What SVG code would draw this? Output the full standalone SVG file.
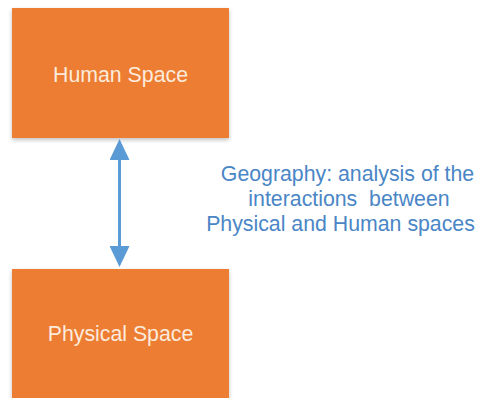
<svg xmlns="http://www.w3.org/2000/svg" width="483" height="398" viewBox="0 0 483 398">
  <defs>
    <style>
      .box { fill: #ED7D31; }
      .boxlabel { font-family: "Liberation Sans", "DejaVu Sans", sans-serif; font-size: 21.3px; fill: #FCEBDD; text-anchor: middle; }
      .note { font-family: "Liberation Sans", "DejaVu Sans", sans-serif; font-size: 21.3px; fill: #4A86C6; text-anchor: middle; }
      .conn { stroke: #5B9BD5; stroke-width: 3; fill: none; }
    </style>
    <filter id="shadow" x="-10%" y="-10%" width="120%" height="130%">
      <feGaussianBlur in="SourceAlpha" stdDeviation="2"/>
      <feOffset dx="0" dy="2" result="b"/>
      <feComponentTransfer><feFuncA type="linear" slope="0.25"/></feComponentTransfer>
      <feMerge><feMergeNode/><feMergeNode in="SourceGraphic"/></feMerge>
    </filter>
    <marker id="head" viewBox="0 0 21 20" refX="2" refY="10" markerWidth="21" markerHeight="20" markerUnits="userSpaceOnUse" orient="auto-start-reverse">
      <path d="M0,0 L21,10 L0,20 z" fill="#5B9BD5"/>
    </marker>
  </defs>
  <rect width="483" height="398" fill="#FFFFFF"/>
  <g id="human-space">
    <rect class="box" x="12" y="8" width="217" height="130" filter="url(#shadow)"/>
    <text class="boxlabel" x="120.5" y="81.5">Human Space</text>
  </g>
  <g id="physical-space">
    <rect class="box" x="12" y="269" width="217" height="135" filter="url(#shadow)"/>
    <text class="boxlabel" x="120.5" y="341">Physical Space</text>
  </g>
  <g id="connectors">
    <line class="conn" x1="119.5" y1="158" x2="119.5" y2="248" marker-start="url(#head)" marker-end="url(#head)"/>
  </g>
  <g id="label">
    <text class="note" x="347.5" y="181">Geography: analysis of the</text>
    <text class="note" x="349" y="206" xml:space="preserve">interactions  between</text>
    <text class="note" x="340.5" y="231">Physical and Human spaces</text>
  </g>
</svg>
